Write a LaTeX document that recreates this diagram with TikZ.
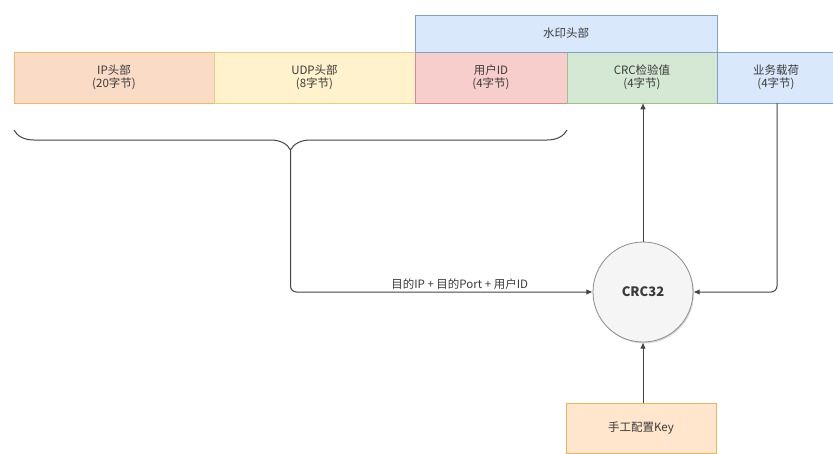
\documentclass[tikz,border=0pt]{standalone}
\usepackage{fontspec}
\setmainfont{Noto Sans CJK SC}
\usepackage{tikz}
\usetikzlibrary{arrows.meta,positioning,decorations.pathreplacing,shadows}

\begin{document}
\begin{tikzpicture}[
    x=1pt, y=-1pt,
    font=\fontsize{11.5}{13.5}\selectfont,
    text=txtc,
    >=Latex,
    field/.style={draw, align=center, inner sep=2pt, outer sep=0pt, minimum height=51pt, text=txtc},
    flow/.style={draw=linec, line width=1pt, -{Latex[length=2.2mm, width=2mm]}},
    brc/.style={draw=linec, line width=1pt, decorate, decoration={brace, mirror, amplitude=20pt}}
  ]
    \definecolor{txtc}{HTML}{3A3A3A}
    \definecolor{linec}{HTML}{444444}
    \definecolor{ipc}{HTML}{FADBC6}
    \definecolor{ipd}{HTML}{F0B860}
    \definecolor{udpc}{HTML}{FFF2CC}
    \definecolor{udpd}{HTML}{E8CF80}
    \definecolor{uidc}{HTML}{F8CECC}
    \definecolor{uidd}{HTML}{D98A88}
    \definecolor{chkc}{HTML}{D5E8D4}
    \definecolor{chkd}{HTML}{9CC38C}
    \definecolor{blc}{HTML}{DAE8FC}
    \definecolor{bld}{HTML}{7F9FCF}
    \definecolor{keyc}{HTML}{FFE6CC}
    \definecolor{keyd}{HTML}{E8B560}

    \useasboundingbox (0,0) rectangle (833,453);

    % packet fields
    \node[field, fill=ipc, draw=ipd, minimum width=200pt] (ip) at (114,77.5) {IP头部\\(20字节)};
    \node[field, fill=udpc, draw=udpd, minimum width=201pt, right=0pt of ip] (udp) {UDP头部\\(8字节)};
    \node[field, fill=uidc, draw=uidd, minimum width=152pt, right=0pt of udp] (uid) {用户ID\\(4字节)};
    \node[field, fill=chkc, draw=chkd, minimum width=150pt, right=0pt of uid] (chk) {CRC检验值\\(4字节)};
    \node[field, fill=blc, draw=bld, minimum width=118pt, right=0pt of chk] (pay) {业务载荷\\(4字节)};
    \node[field, fill=blc, draw=bld, minimum width=302pt, minimum height=37pt, anchor=south west] (wm) at (uid.north west) {水印头部};

    % crc and key
    \node[circle, draw=black!45, fill=black!4, line width=0.8pt, minimum size=100pt, drop shadow={opacity=0.3, shadow xshift=1pt, shadow yshift=-1.5pt}, font=\fontsize{13}{15}\selectfont\bfseries] (crc) at (643,292) {CRC32};
    \node[field, fill=keyc, draw=keyd, minimum width=150pt, minimum height=50pt] (key) at (641,428) {手工配置Key};

    \draw[brc] (14,130) -- (567,130);
    \coordinate (tip) at (290.5,150);

    \draw[flow, rounded corners=6pt] (tip) |- (crc.west) node[pos=0.78, above=-1pt] {目的IP + 目的Port + 用户ID};
    \draw[flow, rounded corners=6pt] (pay.south -| 777,0) |- (crc.east);
    \draw[flow] (crc.north) -- (chk.south -| crc.north);
    \draw[flow] (key.north -| crc.south) -- (crc.south);
  \end{tikzpicture}
\end{document}
